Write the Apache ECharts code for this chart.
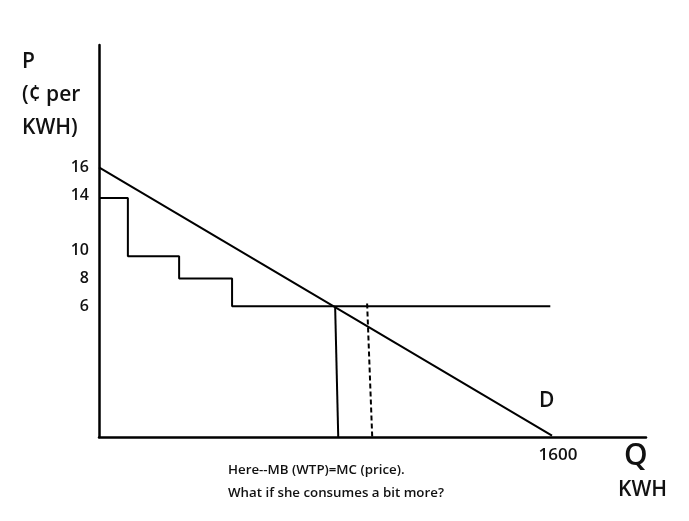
<!DOCTYPE html>
<html><head><meta charset="utf-8">
<script src="https://cdn.jsdelivr.net/npm/echarts@6/dist/echarts.min.js"></script>
<style>html,body{margin:0;padding:0;background:#fff}#c{width:689px;height:521px}</style>
</head><body><div id="c"></div>
<script>
// Data
const yTickValues = [16, 14, 10, 8, 6];
const xTickValues = [1600];
const demandQ = [0, 1600];
const demandP = [16, -3.3];
const mbStepQ = [0, 102, 102, 283, 283, 470, 470, 1594];
const mbStepP = [13.8, 13.8, 9.6, 9.6, 8, 8, 6, 6];
const solidQ = [834, 845];
const solidP = [6, -3.4];
const dashedQ = [947, 965];
const dashedP = [6.2, -3.4];

const FONT = '"Open Sans"';
const W = 600;
const zip = (a, b) => a.map((v, i) => [v, b[i]]);
const chart = echarts.init(document.getElementById('c'));
const lineSeries = (q, p, type) => ({
  type: 'line', data: zip(q, p), showSymbol: false, silent: true, animation: false,
  lineStyle: { color: '#000', width: 2, type: type || 'solid' }
});
const txt = (text, left, top, size) => ({
  type: 'text', left, top, style: { text, font: W + ' ' + size + 'px ' + FONT, fill: '#111' }
});
chart.setOption({
  backgroundColor: '#fff',
  animation: false,
  grid: { left: 99, right: 43, top: 45, bottom: 84 },
  xAxis: {
    type: 'value', min: 0, max: 1932,
    splitLine: { show: false },
    axisLine: { show: true, onZero: false, lineStyle: { color: '#000', width: 2.5 } },
    axisTick: { show: false },
    axisLabel: { customValues: xTickValues, formatter: v => String(v), color: '#111', fontWeight: W,
      fontSize: 17, fontFamily: FONT, margin: 10, padding: [0, 0, 0, 12] }
  },
  yAxis: {
    type: 'value', min: -3.4, max: 24.8,
    splitLine: { show: false },
    axisLine: { show: true, onZero: false, lineStyle: { color: '#000', width: 2.5 } },
    axisTick: { show: false },
    axisLabel: { customValues: yTickValues, formatter: v => String(v), color: '#111', fontWeight: W,
      fontSize: 16, fontFamily: FONT, margin: 10, padding: [3, 0, 0, 0] }
  },
  series: [
    lineSeries(demandQ, demandP),
    lineSeries(mbStepQ, mbStepP),
    lineSeries(solidQ, solidP),
    lineSeries(dashedQ, dashedP, [5, 3])
  ],
  graphic: [
    txt('P', 22, 52, 21),
    txt('(¢ per', 22, 85, 21),
    txt('KWH)', 22, 118, 21),
    txt('D', 539, 391, 21),
    txt('Q', 624, 441, 30),
    txt('KWH', 618, 480, 21),
    txt('Here--MB (WTP)=MC (price).', 228, 464, 13.3),
    txt('What if she consumes a bit more?', 228, 487, 13.3)
  ]
});
</script></body></html>
